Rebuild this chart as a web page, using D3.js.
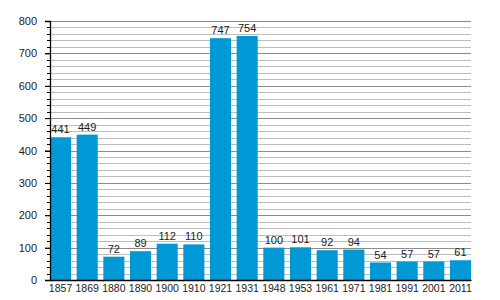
<!DOCTYPE html>
<html>
<head>
    <meta charset="utf-8">
    <title>Population</title>
    <style>
        body { margin: 0; background: #fff; overflow: hidden; }
        svg { display: block; }
        text { font-family: "Liberation Sans", Arial, sans-serif; fill: #222; }
    </style>
</head>
<body>
    <svg></svg>
    <script src="https://d3js.org/d3.v7.min.js"></script>
    <script>
        const years = ['1857', '1869', '1880', '1890', '1900', '1910', '1921', '1931',
                       '1948', '1953', '1961', '1971', '1981', '1991', '2001', '2011'];
        const population = [441, 449, 72, 89, 112, 110, 747, 754,
                            100, 101, 92, 94, 54, 57, 57, 61];
        const yTicks = [0, 100, 200, 300, 400, 500, 600, 700, 800];

        const width = 500;
        const height = 300;
        const margin = { top: 21, right: 29, bottom: 20, left: 50 };
        const innerWidth = width - margin.left - margin.right;
        const innerHeight = height - margin.top - margin.bottom;

        const data = years.map((y, i) => ({ year: y, value: population[i] }));

        const svg = d3.select('svg').attr('width', width).attr('height', height)
            .append('g')
            .attr('transform', `translate(${margin.left},${margin.top})`);

        const xScale = d3.scaleBand()
            .domain(years)
            .range([0, innerWidth])
            .paddingInner(0.21)
            .paddingOuter(0);

        const yScale = d3.scaleLinear()
            .domain([0, 800])
            .range([innerHeight, 0]);

        // grid lines, every 20, darker at every 100
        const gridVals = d3.range(20, 801, 20);
        svg.append('g').selectAll('line').data(gridVals).enter().append('line')
            .attr('x1', 0).attr('x2', innerWidth)
            .attr('y1', d => Math.round(yScale(d)) + 0.5)
            .attr('y2', d => Math.round(yScale(d)) + 0.5)
            .attr('stroke', d => d % 100 === 0 ? '#8c8c8c' : '#bdbdbd')
            .attr('stroke-width', 1);

        // bars
        svg.selectAll('rect').data(data).enter().append('rect')
            .attr('x', d => xScale(d.year))
            .attr('y', d => yScale(d.value))
            .attr('width', xScale.bandwidth())
            .attr('height', d => innerHeight - yScale(d.value))
            .attr('fill', '#0099d6');

        // value labels
        svg.append('g').selectAll('text').data(data).enter().append('text')
            .attr('x', d => xScale(d.year) + xScale.bandwidth() / 2)
            .attr('y', d => yScale(d.value) - 4)
            .attr('text-anchor', 'middle')
            .style('font-size', '11px')
            .text(d => d.value);

        // left axis: minor ticks
        svg.append('g').selectAll('line').data(d3.range(0, 801, 20)).enter().append('line')
            .attr('x1', d => d % 100 === 0 ? -5 : -3).attr('x2', 0)
            .attr('y1', d => Math.round(yScale(d)) + 0.5)
            .attr('y2', d => Math.round(yScale(d)) + 0.5)
            .attr('stroke', '#000');

        const yAxis = svg.append('g')
            .call(d3.axisLeft(yScale).tickValues(yTicks).tickSize(5).tickPadding(8));
        yAxis.select('.domain').attr('stroke', '#000').attr('stroke-width', 1.3);
        yAxis.selectAll('text').style('font-size', '11px').attr('fill', '#222');

        const xAxis = svg.append('g')
            .attr('transform', `translate(0,${innerHeight})`)
            .call(d3.axisBottom(xScale).tickSize(0).tickPadding(5).tickSizeOuter(0));
        xAxis.select('.domain').attr('stroke', '#000').attr('stroke-width', 1.3);
        xAxis.selectAll('text').style('font-size', '10.5px').attr('fill', '#222');
    </script>
</body>
</html>
